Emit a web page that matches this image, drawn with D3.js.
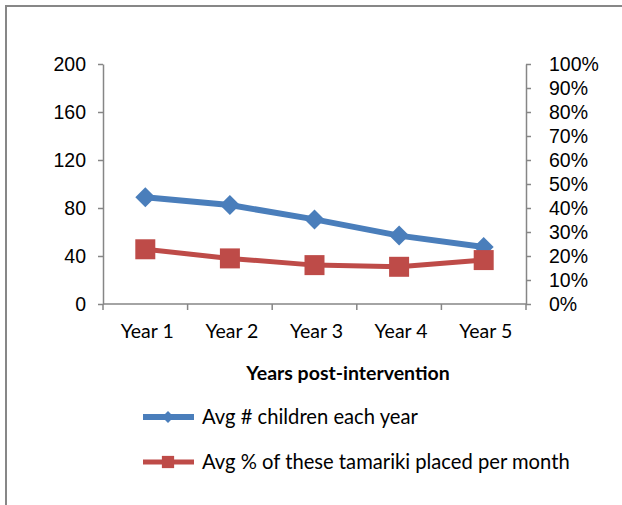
<!DOCTYPE html>
<html>
<head>
<meta charset="utf-8">
<script src="https://cdn.jsdelivr.net/npm/d3@7"></script>
<style>
  html, body { margin: 0; padding: 0; background: #fff; }
  svg { display: block; font-family: Lato, "Open Sans", sans-serif; }
</style>
</head>
<body>
<svg id="chart" width="622" height="505"></svg>
<script>
// Data
const years = ["Year 1", "Year 2", "Year 3", "Year 4", "Year 5"];
const avgChildren = [89, 82.5, 70.5, 57, 47.5];
const avgPctPlaced = [0.228, 0.19, 0.162, 0.155, 0.183];
const leftTicks = [0, 40, 80, 120, 160, 200];
const rightTicks = [0, 0.1, 0.2, 0.3, 0.4, 0.5, 0.6, 0.7, 0.8, 0.9, 1.0];
const seriesNames = ["Avg # children each year", "Avg % of these tamariki placed per month"];
const xTitle = "Years post-intervention";

const blue = "#4a7ebb", red = "#be4b48", axisGray = "#868686", textCol = "#000";
const fontSize = "19.5px";

const svg = d3.select("#chart");

// outer frame
svg.append("rect").attr("x", 6).attr("y", 6).attr("width", 640).attr("height", 520)
  .attr("fill", "none").attr("stroke", "#878787").attr("stroke-width", 2);

const plot = { left: 103, right: 526, top: 64, bottom: 304 };

const x = d3.scaleBand().domain(years).range([plot.left, plot.right]);
const yL = d3.scaleLinear().domain([0, 200]).range([plot.bottom, plot.top]);
const yR = d3.scaleLinear().domain([0, 1]).range([plot.bottom, plot.top]);

function styleAxis(g) {
  g.selectAll("path.domain").attr("stroke", axisGray).attr("stroke-width", 1.5);
  g.selectAll(".tick line").attr("stroke", axisGray).attr("stroke-width", 1.5);
  g.selectAll(".tick text").attr("fill", textCol).style("font-size", fontSize);
}

// left axis
svg.append("g").attr("transform", `translate(${plot.left},0)`)
  .call(d3.axisLeft(yL).tickValues(leftTicks).tickSize(5).tickPadding(12).tickSizeOuter(0))
  .call(styleAxis);

// right axis
svg.append("g").attr("transform", `translate(${plot.right},0)`)
  .call(d3.axisRight(yR).tickValues(rightTicks).tickFormat(d3.format(".0%")).tickSize(5).tickPadding(18).tickSizeOuter(0))
  .call(styleAxis);

// bottom axis with ticks between categories
const xAxisG = svg.append("g").attr("transform", `translate(0,${plot.bottom})`);
xAxisG.append("line").attr("x1", plot.left).attr("x2", plot.right)
  .attr("stroke", axisGray).attr("stroke-width", 1.5);
const bounds = years.map(d => x(d)).concat([x(years[years.length - 1]) + x.bandwidth()]);
xAxisG.selectAll("line.tk").data(bounds).join("line").attr("class", "tk")
  .attr("x1", d => d).attr("x2", d => d).attr("y1", 0).attr("y2", 6)
  .attr("stroke", axisGray).attr("stroke-width", 1.5);
xAxisG.selectAll("text").data(years).join("text")
  .attr("x", d => x(d) + x.bandwidth() / 2 + 2).attr("y", 34)
  .attr("text-anchor", "middle").attr("fill", textCol).style("font-size", fontSize)
  .text(d => d);

// axis title
svg.append("text").attr("x", 348).attr("y", 380).attr("text-anchor", "middle")
  .style("font-size", fontSize).style("font-weight", "bold").attr("fill", textCol)
  .text(xTitle);

const cx = d => x(d) + x.bandwidth() / 2;

// blue series
const lineL = d3.line().x((d, i) => cx(years[i])).y(d => yL(d));
svg.append("path").datum(avgChildren).attr("d", lineL)
  .attr("fill", "none").attr("stroke", blue).attr("stroke-width", 6).attr("stroke-linejoin", "round");
svg.selectAll("path.dia").data(avgChildren).join("path").attr("class", "dia")
  .attr("d", d3.symbol().type(d3.symbolSquare).size(200)())
  .attr("transform", (d, i) => `translate(${cx(years[i])},${yL(d)}) rotate(45)`)
  .attr("fill", blue);

// red series
const lineR = d3.line().x((d, i) => cx(years[i])).y(d => yR(d));
svg.append("path").datum(avgPctPlaced).attr("d", lineR)
  .attr("fill", "none").attr("stroke", red).attr("stroke-width", 5).attr("stroke-linejoin", "round");
svg.selectAll("path.sq").data(avgPctPlaced).join("path").attr("class", "sq")
  .attr("d", d3.symbol().type(d3.symbolSquare).size(400)())
  .attr("transform", (d, i) => `translate(${cx(years[i])},${yR(d)})`)
  .attr("fill", red);

// legend
const legend = [
  { name: seriesNames[0], color: blue, y: 417, shape: "diamond" },
  { name: seriesNames[1], color: red, y: 462, shape: "square" }
];
const lg = svg.selectAll("g.lg").data(legend).join("g").attr("class", "lg")
  .attr("transform", d => `translate(0,${d.y})`);
lg.append("line").attr("x1", 143).attr("x2", 194).attr("y1", 0).attr("y2", 0)
  .attr("stroke", d => d.color).attr("stroke-width", d => d.shape === "diamond" ? 6 : 5);
lg.append("path")
  .attr("d", d => d.shape === "diamond" ? d3.symbol().type(d3.symbolSquare).size(70)() : d3.symbol().type(d3.symbolSquare).size(150)())
  .attr("transform", d => d.shape === "diamond" ? "translate(168,0) rotate(45)" : "translate(168,0)")
  .attr("fill", d => d.color);
lg.append("text").attr("x", 202).attr("y", 7).style("font-size", "20.2px").attr("fill", textCol)
  .text(d => d.name);
</script>
</body>
</html>
